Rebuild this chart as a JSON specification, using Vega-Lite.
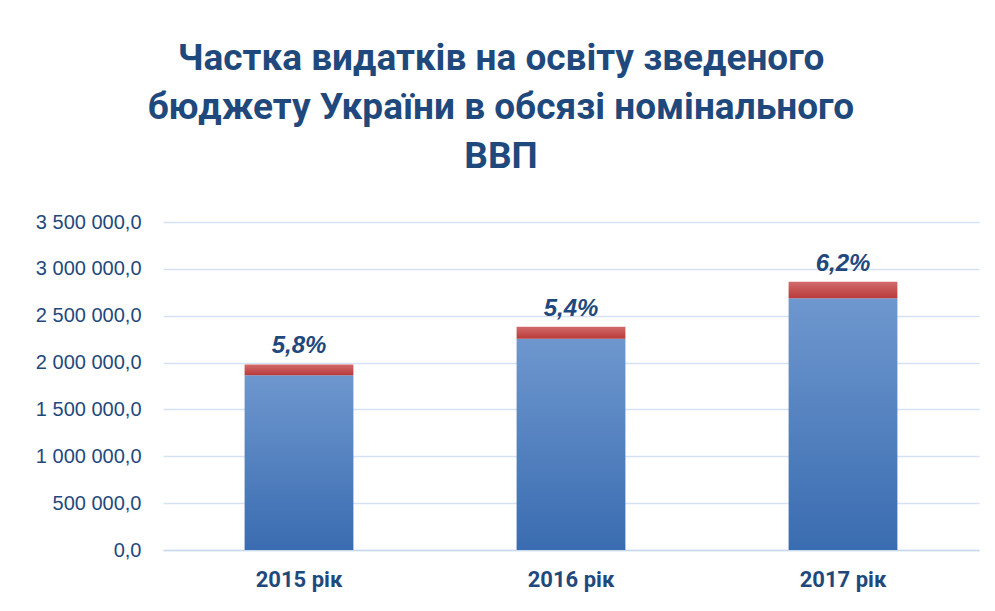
{
  "$schema": "https://vega.github.io/schema/vega-lite/v6.json",
  "autosize": {"type": "none"},
  "width": 816,
  "height": 328,
  "padding": {"left": 163, "top": 222, "right": 16, "bottom": 61},
  "background": "white",
  "config": {
    "locale": {"number": {"decimal": ",", "thousands": " ", "grouping": [3], "currency": ["", ""]}},
    "view": {"stroke": null},
    "font": "Roboto"
  },
  "title": {
    "text": ["Частка видатків  на освіту зведеного", "бюджету України  в обсязі номінального", "ВВП"],
    "font": "Roboto",
    "fontSize": 37,
    "fontWeight": "bold",
    "color": "#1F497D",
    "lineHeight": 49,
    "anchor": "middle",
    "frame": "group",
    "dx": -70,
    "offset": 36
  },
  "data": {
    "values": [
      {"year": "2015 рік", "base": 1864658, "total": 1979458, "label": "5,8%"},
      {"year": "2016 рік", "base": 2254482, "total": 2383182, "label": "5,4%"},
      {"year": "2017 рік", "base": 2685500, "total": 2863000, "label": "6,2%"}
    ]
  },
  "encoding": {
    "x": {
      "field": "year", "type": "nominal",
      "scale": {"paddingInner": 0.6, "paddingOuter": 0.3},
      "axis": {
        "title": null, "labelAngle": 0, "ticks": false,
        "domainColor": "#C9D9EE", "domainWidth": 1.5,
        "labelFont": "Roboto", "labelFontSize": 22, "labelFontWeight": "bold",
        "labelColor": "#1F497D", "labelPadding": 19
      }
    }
  },
  "layer": [
    {
      "mark": {"type": "bar", "color": {"gradient": "linear", "x1": 0, "y1": 0, "x2": 0, "y2": 1,
        "stops": [{"offset": 0, "color": "#6E97CE"}, {"offset": 1, "color": "#3A6CB1"}]}},
      "encoding": {
        "y": {
          "field": "base", "type": "quantitative",
          "scale": {"domain": [0, 3500000]},
          "axis": {
            "title": null, "values": [0, 500000, 1000000, 1500000, 2000000, 2500000, 3000000, 3500000],
            "format": ",.1f", "ticks": false, "domain": false,
            "gridColor": "#D5E2F3", "gridWidth": 1.5,
            "labelFont": "Liberation Sans", "labelFontSize": 20, "labelColor": "#1F497D", "labelPadding": 22
          }
        }
      }
    },
    {
      "mark": {"type": "bar", "color": {"gradient": "linear", "x1": 0, "y1": 0, "x2": 0, "y2": 1,
        "stops": [{"offset": 0, "color": "#D26B6B"}, {"offset": 1, "color": "#B83A3A"}]}},
      "encoding": {
        "y": {"field": "base", "type": "quantitative"},
        "y2": {"field": "total"}
      }
    },
    {
      "mark": {"type": "text", "baseline": "bottom", "dy": -6, "font": "Liberation Sans", "fontSize": 24,
        "fontStyle": "italic", "fontWeight": "bold", "color": "#1F497D"},
      "encoding": {
        "y": {"field": "total", "type": "quantitative"},
        "text": {"field": "label"}
      }
    }
  ]
}
